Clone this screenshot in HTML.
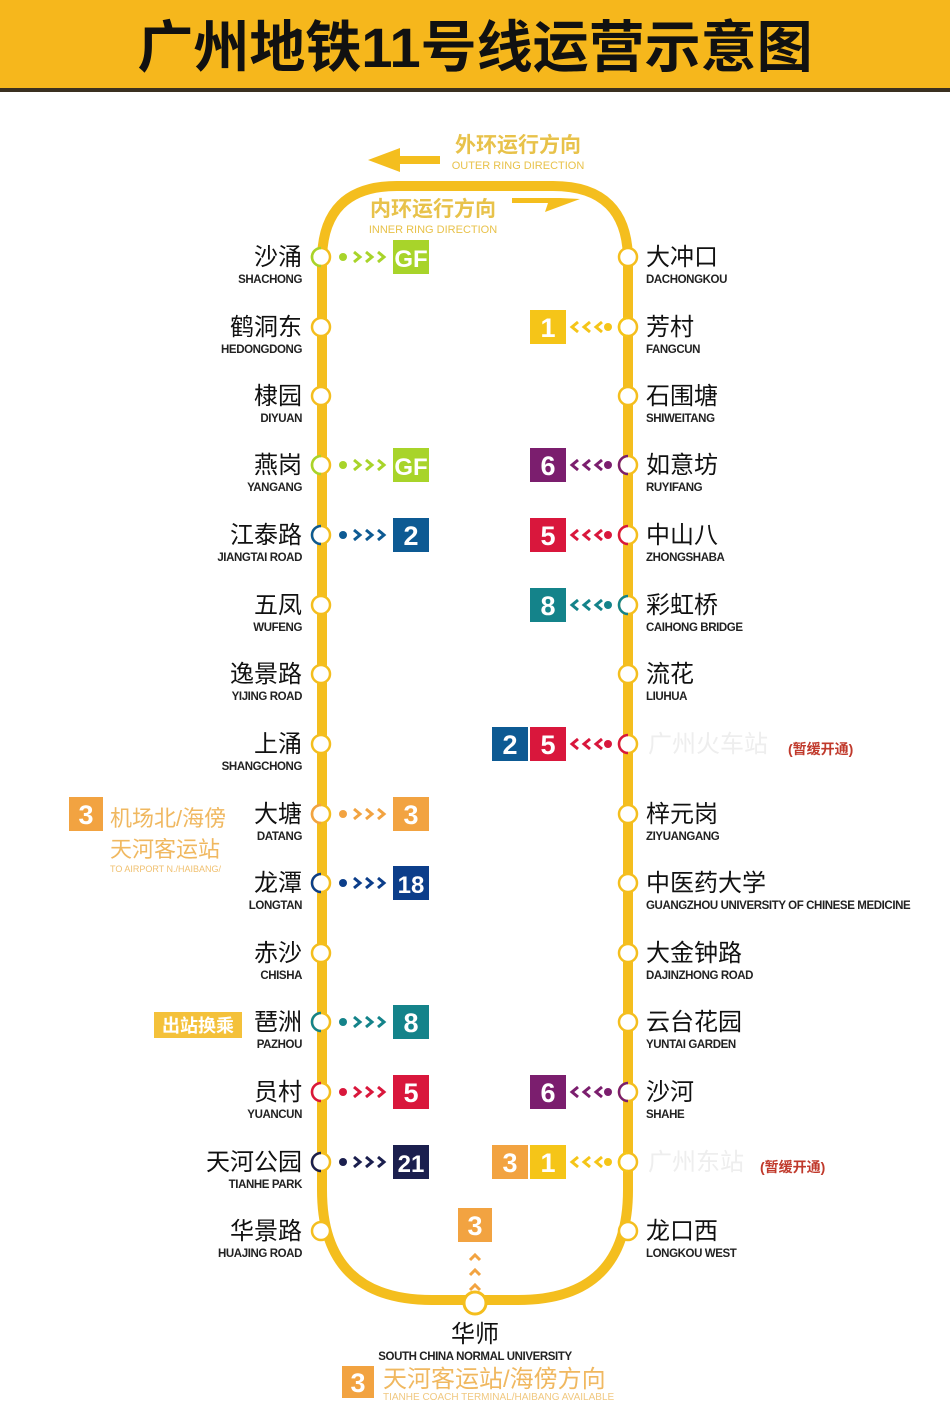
<!DOCTYPE html><html><head><meta charset="utf-8"><style>
body{margin:0;width:950px;height:1411px;background:#fff;overflow:hidden}
svg text{font-family:"Liberation Sans","Noto Sans CJK SC",sans-serif}
.zh{font-size:24px;fill:#111}
.en{font-size:11.5px;fill:#222;font-weight:bold;letter-spacing:-0.4px}
.b{font-size:27px;fill:#fff;font-weight:bold;text-anchor:middle}
</style></head><body>
<svg width="950" height="1411" viewBox="0 0 950 1411" xmlns="http://www.w3.org/2000/svg">
<rect x="0" y="0" width="950" height="90" fill="#f6b71c"/>
<rect x="0" y="88" width="950" height="4" fill="#3a3020"/>
<text x="475" y="67" text-anchor="middle" style="font-size:56px;font-weight:bold;fill:#111">广州地铁11号线运营示意图</text>
<path d="M322,1190 L322,261 Q322,186 397,186 L553,186 Q628,186 628,261 L628,1190 Q628,1300 518,1300 L432,1300 Q322,1300 322,1190 Z" fill="none" stroke="#f4be1e" stroke-width="10"/>
<polygon points="368,160 400,148 400,156 440,156 440,164 400,164 400,172" fill="#f4be1e"/>
<text x="518" y="152" text-anchor="middle" style="font-size:21px;fill:#e8c24a;font-weight:bold">外环运行方向</text>
<text x="518" y="169" text-anchor="middle" style="font-size:11px;fill:#e8c24a">OUTER RING DIRECTION</text>
<polygon points="512,198 560,198 580,199 545,212 548,203 512,203" fill="#f4be1e"/>
<text x="433" y="216" text-anchor="middle" style="font-size:21px;fill:#e8c24a;font-weight:bold">内环运行方向</text>
<text x="433" y="233" text-anchor="middle" style="font-size:11px;fill:#e8c24a">INNER RING DIRECTION</text>
<g id="st"></g>
</svg>
<script>
const s=document.querySelector('#st');let h='';
const Y=[257,327,396,465,535,605,674,744,814,883,953,1022,1092,1162,1231];
const L=[["沙涌","SHACHONG","GF","#a8d42a"],["鹤洞东","HEDONGDONG"],["棣园","DIYUAN"],["燕岗","YANGANG","GF","#a8d42a"],["江泰路","JIANGTAI ROAD","2","#0d5a93"],["五凤","WUFENG"],["逸景路","YIJING ROAD"],["上涌","SHANGCHONG"],["大塘","DATANG","3","#f2a341"],["龙潭","LONGTAN","18","#0c3e8a"],["赤沙","CHISHA"],["琶洲","PAZHOU","8","#14838a"],["员村","YUANCUN","5","#d9173c"],["天河公园","TIANHE PARK","21","#1b1f4e"],["华景路","HUAJING ROAD"]];
const R=[["大冲口","DACHONGKOU"],["芳村","FANGCUN",["1"],["#f5c518"]],["石围塘","SHIWEITANG"],["如意坊","RUYIFANG",["6"],["#7b1e6e"]],["中山八","ZHONGSHABA",["5"],["#d9173c"]],["彩虹桥","CAIHONG BRIDGE",["8"],["#14838a"]],["流花","LIUHUA"],["","",["2","5"],["#0d5a93","#d9173c"],"广州火车站"],["梓元岗","ZIYUANGANG"],["中医药大学","GUANGZHOU UNIVERSITY OF CHINESE MEDICINE"],["大金钟路","DAJINZHONG ROAD"],["云台花园","YUNTAI GARDEN"],["沙河","SHAHE",["6"],["#7b1e6e"]],["","",["3","1"],["#f2a341","#f5c518"],"广州东站"],["龙口西","LONGKOU WEST"]];
function circ(x,y,c){return `<circle cx="${x}" cy="${y}" r="9" fill="#fff" stroke="#f4be1e" stroke-width="2.5"/>`+(c?`<path d="M${x},${y-9} A9,9 0 0,0 ${x},${y+9}" fill="none" stroke="${c}" stroke-width="2.5"/>`:'')}
function chev(x,y,c,dir){return dir>0?`<path d="M${x},${y-5} L${x+6},${y} L${x},${y+5}" fill="none" stroke="${c}" stroke-width="3"/>`:`<path d="M${x+6},${y-5} L${x},${y} L${x+6},${y+5}" fill="none" stroke="${c}" stroke-width="3"/>`}
L.forEach((d,i)=>{const y=Y[i];
h+=`<text x="302" y="${y+8}" text-anchor="end" class="zh">${d[0]}</text><text x="302" y="${y+26}" text-anchor="end" class="en">${d[1]}</text>`;
h+=circ(321,y,d[3]);
if(d[2]){h+=`<circle cx="343" cy="${y}" r="4" fill="${d[3]}"/>`;[354,366,378].forEach(x=>h+=chev(x,y,d[3],1));
h+=`<rect x="393" y="${y-17}" width="36" height="34" fill="${d[3]}"/><text x="411" y="${y+10}" class="b" style="font-size:${d[2].length>1?24:27}px">${d[2]}</text>`;}
});
R.forEach((d,i)=>{const y=Y[i];
if(d[0]){h+=`<text x="646" y="${y+8}" class="zh">${d[0]}</text><text x="646" y="${y+26}" class="en">${d[1]}</text>`}
else{h+=`<text x="648" y="${y+8}" class="zh" style="fill:#eeeeee">${d[4]}</text><text x="${i==7?788:760}" y="${y+10}" style="font-size:14px;font-weight:bold;fill:#c0392b">(暂缓开通)</text>`}
h+=circ(628,y,d[3]?d[3][d[3].length-1]:null);
if(d[2]){const c=d[3][d[3].length-1];[572,584,596].forEach(x=>h+=chev(x,y,c,-1));h+=`<circle cx="608" cy="${y}" r="4" fill="${c}"/>`;
let x0=566-36*d[2].length-2*(d[2].length-1);d[2].forEach((b,k)=>{const x=x0+k*38;h+=`<rect x="${x}" y="${y-17}" width="36" height="34" fill="${d[3][k]}"/><text x="${x+18}" y="${y+10}" class="b">${b}</text>`})}
});
h+=`<rect x="69" y="797" width="34" height="34" fill="#f2a341"/><text x="86" y="824" class="b">3</text>
<text x="110" y="826" style="font-size:22px;fill:#f0b860">机场北/海傍</text><text x="110" y="857" style="font-size:22px;fill:#f0b860">天河客运站</text><text x="110" y="872" style="font-size:9px;fill:#f0c070">TO AIRPORT N./HAIBANG/</text>
<rect x="154" y="1012" width="88" height="26" fill="#f4c13a"/><text x="198" y="1032" text-anchor="middle" style="font-size:18px;fill:#fff;font-weight:bold">出站换乘</text>`;
h+=`<rect x="458" y="1208" width="34" height="34" fill="#f2a341"/><text x="475" y="1235" class="b">3</text>`;
[1255,1270,1285].forEach(y=>h+=`<path d="M470,${y+5} L475,${y} L480,${y+5}" fill="none" stroke="#f2a341" stroke-width="3"/>`);
h+=`<circle cx="475" cy="1303" r="11" fill="#fff" stroke="#f4be1e" stroke-width="3"/>
<text x="475" y="1342" text-anchor="middle" class="zh">华师</text><text x="475" y="1360" text-anchor="middle" class="en">SOUTH CHINA NORMAL UNIVERSITY</text>
<rect x="342" y="1366" width="32" height="32" fill="#f2a341"/><text x="358" y="1392" class="b">3</text>
<text x="383" y="1387" style="font-size:24px;fill:#f0b860">天河客运站/海傍方向</text><text x="383" y="1400" style="font-size:10px;fill:#f0c880">TIANHE COACH TERMINAL/HAIBANG AVAILABLE</text>`;
s.innerHTML=h;
</script>
</body></html>
